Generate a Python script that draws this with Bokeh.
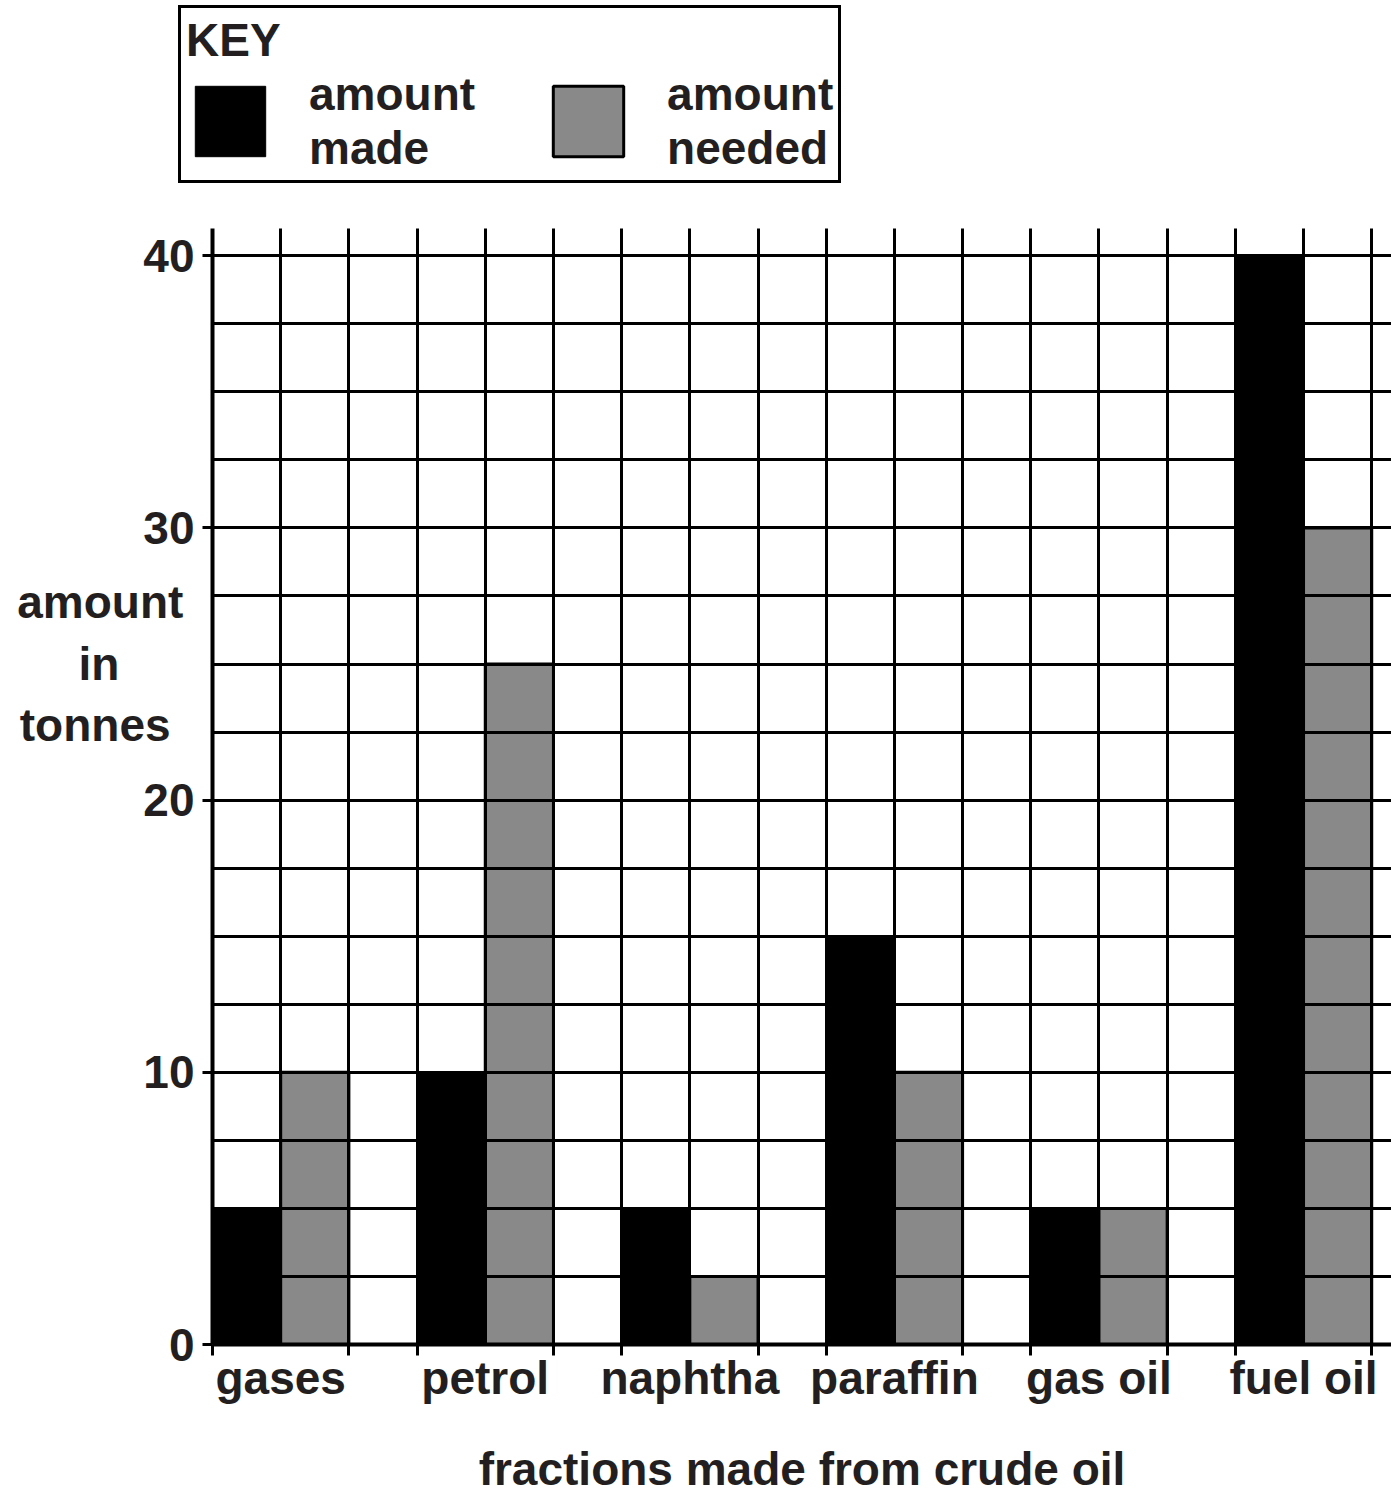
from bokeh.plotting import figure
from bokeh.models import (FixedTicker, Legend, LegendItem, ColumnDataSource, Range1d)
from bokeh.layouts import column
from bokeh.embed import file_html
from bokeh.resources import INLINE

categories = ["gases", "petrol", "naphtha", "paraffin", "gas oil", "fuel oil"]
amount_made = [5, 10, 5, 15, 5, 40]
amount_needed = [10, 25, 2.5, 10, 5, 30]
y_ticks = [0, 10, 20, 30, 40]

FONT = "Liberation Sans"
TXT = "#231f20"
GREY = "#898989"
NB = "\u00a0"

n = len(categories)
group_start = [3 * i for i in range(n)]
made_x = [s + 0.5 for s in group_start]
needed_x = [s + 1.5 for s in group_start]
label_x = [s + 1 for s in group_start]

src_made = ColumnDataSource(dict(x=made_x, top=amount_made))
src_needed = ColumnDataSource(dict(x=needed_x, top=amount_needed))

made_style = dict(fill_color="black", line_color="black", line_width=1)
needed_style = dict(fill_color=GREY, line_color="black", line_width=3)

# ---------------- main chart ----------------
p = figure(width=1391, height=1299, output_backend="svg", toolbar_location=None,
           x_range=Range1d(0, 17.29), y_range=Range1d(0, 41),
           min_border_left=212, min_border_right=0, min_border_top=28, min_border_bottom=155)
p.outline_line_color = None

p.vbar(x="x", top="top", width=1, source=src_made, **made_style)
p.vbar(x="x", top="top", width=1, source=src_needed, **needed_style)

p.xgrid.ticker = FixedTicker(ticks=list(range(0, 18)))
p.ygrid.ticker = FixedTicker(ticks=[i * 2.5 for i in range(17)])
for g in (p.xgrid, p.ygrid):
    g.grid_line_color = "black"
    g.grid_line_width = 3
    g.level = "overlay"

ya = p.yaxis[0]
ya.ticker = FixedTicker(ticks=y_ticks)
ya.major_tick_out = 10
ya.major_tick_in = 0
ya.minor_tick_out = 0
ya.minor_tick_in = 0
ya.major_tick_line_width = 3
ya.axis_line_width = 4
ya.major_label_text_font = FONT
ya.major_label_text_font_style = "bold"
ya.major_label_text_font_size = "46px"
ya.major_label_text_color = TXT
ya.major_label_standoff = 8
# horizontal multi-line title; trailing blank lines lift it above the frame centre
ya.axis_label = "amount\nin" + NB * 5 + "\ntonnes" + NB + "\n\n\n\n"
ya.axis_label_orientation = "horizontal"
ya.axis_label_text_font = FONT
ya.axis_label_text_font_style = "bold"
ya.axis_label_text_font_size = "46px"
ya.axis_label_text_color = TXT
ya.axis_label_text_line_height = 1.18
ya.axis_label_standoff = -43

xa = p.xaxis[0]
boundaries = []
for s in group_start:
    boundaries += [s, s + 2]
xa.ticker = FixedTicker(ticks=label_x, minor_ticks=boundaries)
xa.major_label_overrides = {lx: c for lx, c in zip(label_x, categories)}
xa.major_tick_out = 0
xa.major_tick_in = 0
xa.minor_tick_out = 11
xa.minor_tick_in = 0
xa.minor_tick_line_width = 3
xa.axis_line_width = 4
xa.major_label_text_font = FONT
xa.major_label_text_font_style = "bold"
xa.major_label_text_font_size = "46px"
xa.major_label_text_color = TXT
xa.major_label_standoff = -4
xa.axis_label = "fractions made from crude oil"
xa.axis_label_text_font = FONT
xa.axis_label_text_font_style = "bold"
xa.axis_label_text_font_size = "46px"
xa.axis_label_text_color = TXT
xa.axis_label_standoff = 36

# ---------------- key ----------------
k = figure(width=1391, height=200, output_backend="svg", toolbar_location=None,
           x_range=Range1d(100, 101), y_range=Range1d(100, 101),
           x_axis_location=None, y_axis_location=None,
           min_border_left=0, min_border_right=0, min_border_top=0, min_border_bottom=0)
k.outline_line_color = None
k.xgrid.visible = False
k.ygrid.visible = False
for fig in (k, p):
    try:
        fig.frame_align = False
    except Exception:
        pass
k_made = k.vbar(x="x", top="top", width=1, source=src_made, visible=False, **made_style)
k_needed = k.vbar(x="x", top="top", width=1, source=src_needed, visible=False, **needed_style)

legend = Legend(items=[LegendItem(label="amount\nmade", renderers=[k_made]),
                       LegendItem(label="amount\nneeded", renderers=[k_needed])],
                title="KEY", orientation="horizontal", location=(178, 17),
                glyph_width=88, glyph_height=88, label_standoff=35, spacing=69, padding=5,
                label_text_font=FONT, label_text_font_style="bold", label_text_font_size="46px",
                label_text_color=TXT, label_text_line_height=1.15,
                title_text_font=FONT, title_text_font_style="bold",
                title_text_font_size="46px", title_text_color=TXT, title_text_line_height=1.0,
                title_standoff=0, inactive_fill_alpha=0,
                border_line_color="black", border_line_width=3, border_line_alpha=1,
                background_fill_alpha=1, margin=0)
k.add_layout(legend, "center")

layout = column(k, p, spacing=0)
open("out.html", "w").write(file_html(layout, INLINE))
